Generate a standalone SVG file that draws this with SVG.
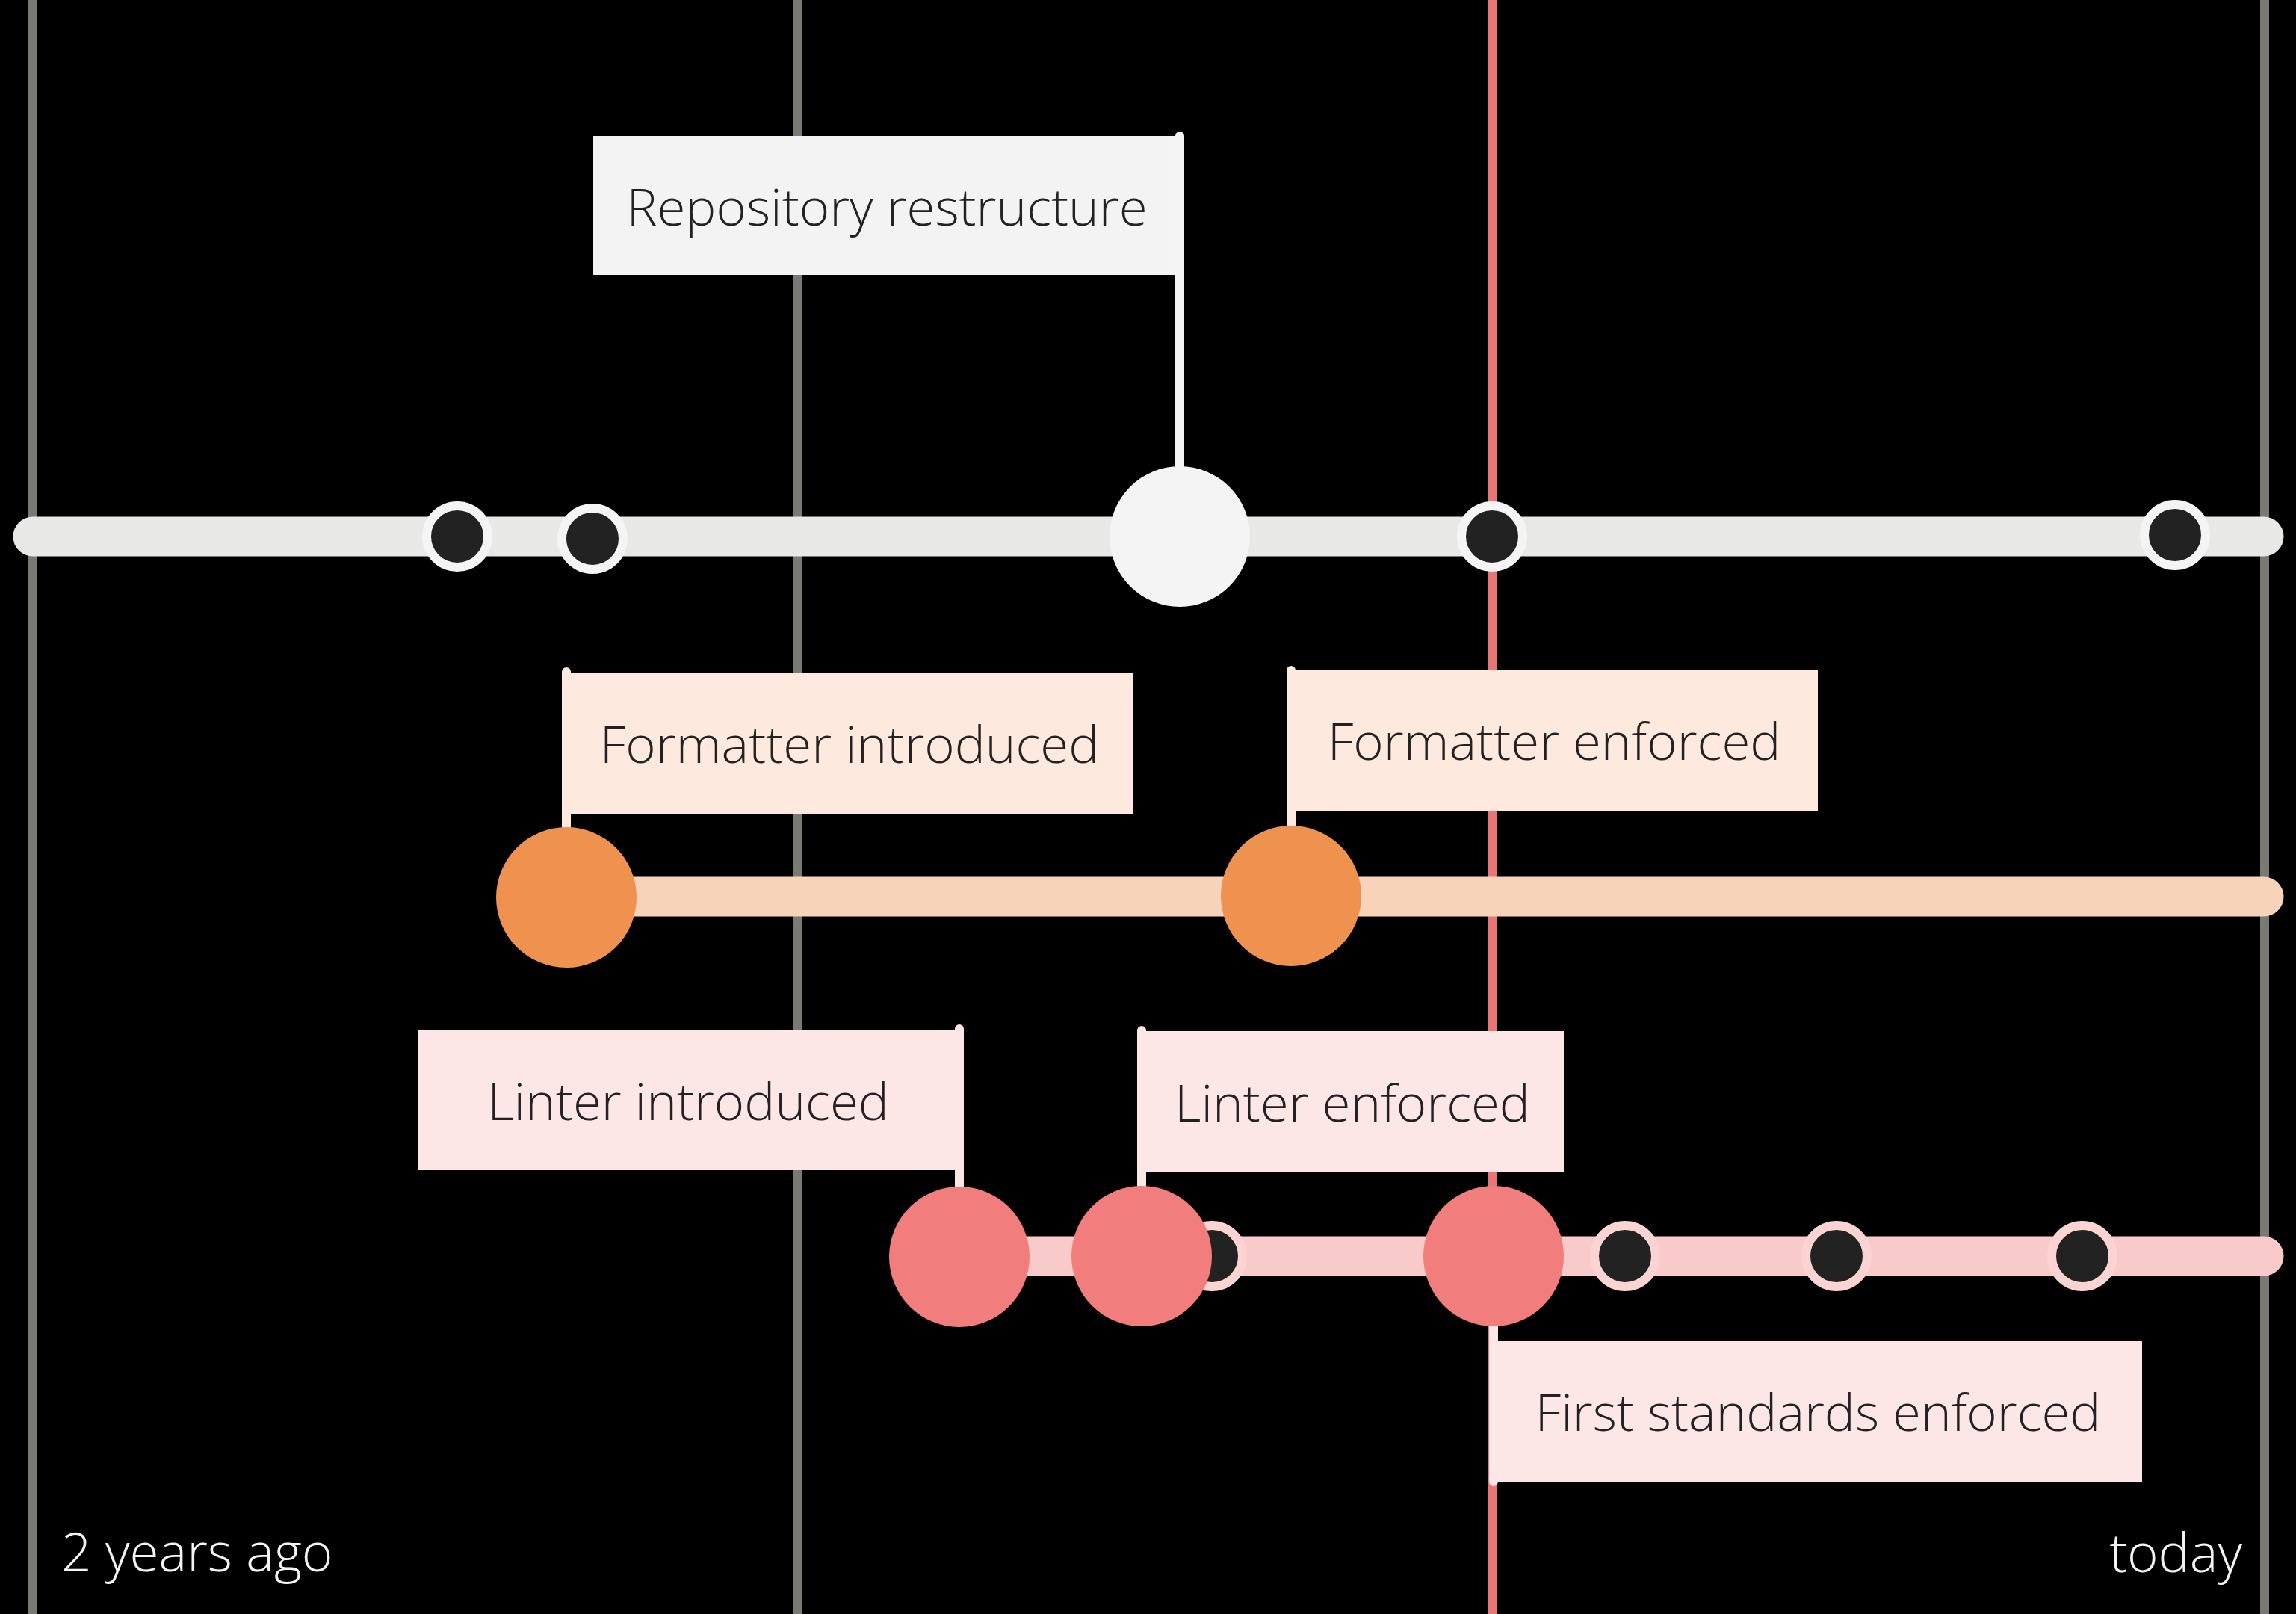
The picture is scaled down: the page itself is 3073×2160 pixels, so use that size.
<svg xmlns="http://www.w3.org/2000/svg" width="3073" height="2160" viewBox="0 0 3073 2160">
<style>
.grid{stroke:#7a7a72;stroke-width:12}
.now{stroke:#e87676;stroke-width:12}
.track{fill:none;stroke-width:53;stroke-linecap:round}
.lbl{font-family:"Open Sans","Noto Sans",sans-serif;font-weight:300;font-size:69px;fill:#222222;text-anchor:middle}
.axis{font-family:"Open Sans","Noto Sans",sans-serif;font-weight:300;font-size:71px;fill:#f4f4f4}
.stem{stroke-width:12;stroke-linecap:round}
.dot{fill:#222222;stroke-width:12}
.main .dot{stroke:#f4f4f4}
.lint .dot{stroke:#fbd3d3}
</style>
<rect width="3073" height="2160" fill="#000000"/>
<g id="gridlines">
<line class="grid" x1="43" y1="0" x2="43" y2="2160"/>
<line class="grid" x1="1068" y1="0" x2="1068" y2="2160"/>
<line class="grid" x1="3031" y1="0" x2="3031" y2="2160"/>
<line class="now" x1="1997" y1="0" x2="1997" y2="2160"/>
</g>
<g id="connectors">
<line class="track" x1="44" y1="718" x2="3030" y2="718" stroke="#e8e8e6"/>
<line class="track" x1="758" y1="1200" x2="3030" y2="1200" stroke="#f7d4b9"/>
<line class="track" x1="1284" y1="1681" x2="3030" y2="1681" stroke="#f9caca"/>
</g>
<g class="main">
<g id="commit-m1"><circle class="dot" cx="612" cy="718" r="41"/></g>
<g id="commit-m2"><circle class="dot" cx="793" cy="721" r="41"/></g>
<g id="commit-m3"><circle class="dot" cx="1997" cy="718" r="41"/></g>
<g id="commit-m4"><circle class="dot" cx="2911" cy="716" r="41"/></g>
</g>
<g class="lint">
<g id="commit-l1"><circle class="dot" cx="1622" cy="1681" r="41"/></g>
<g id="commit-l2"><circle class="dot" cx="2175" cy="1681" r="41"/></g>
<g id="commit-l3"><circle class="dot" cx="2458" cy="1681" r="41"/></g>
<g id="commit-l4"><circle class="dot" cx="2787" cy="1681" r="41"/></g>
</g>
<g id="repository-restructure">
<rect x="794" y="182" width="785" height="186" fill="#f3f3f3"/>
<line class="stem" x1="1579" y1="182" x2="1579" y2="640" stroke="#f4f4f4"/>
<circle cx="1579" cy="718" r="94" fill="#f4f4f4"/>
<text class="lbl" x="1187" y="302">Repository restructure</text>
</g>
<g id="formatter-introduced">
<rect x="758" y="901" width="758" height="188" fill="#fde9dd"/>
<line class="stem" x1="758" y1="899" x2="758" y2="1120" stroke="#fde9dd"/>
<circle cx="758" cy="1201" r="94" fill="#ef9250"/>
<text class="lbl" x="1137" y="1021">Formatter introduced</text>
</g>
<g id="formatter-enforced">
<rect x="1728" y="897" width="705" height="188" fill="#fde9dd"/>
<line class="stem" x1="1728" y1="897" x2="1728" y2="1120" stroke="#fde9dd"/>
<circle cx="1728" cy="1199" r="94" fill="#ef9250"/>
<text class="lbl" x="2080" y="1017">Formatter enforced</text>
</g>
<g id="linter-introduced">
<rect x="559" y="1378" width="725" height="188" fill="#fce6e6"/>
<line class="stem" x1="1284" y1="1377" x2="1284" y2="1600" stroke="#fce6e6"/>
<circle cx="1284" cy="1682" r="94" fill="#f17e7c"/>
<text class="lbl" x="921" y="1499">Linter introduced</text>
</g>
<g id="linter-enforced">
<rect x="1528" y="1380" width="565" height="188" fill="#fce6e6"/>
<line class="stem" x1="1528" y1="1379" x2="1528" y2="1600" stroke="#fce6e6"/>
<circle cx="1528" cy="1681" r="94" fill="#f17e7c"/>
<text class="lbl" x="1810" y="1501">Linter enforced</text>
</g>
<g id="first-standards-enforced">
<rect x="1999" y="1795" width="868" height="188" fill="#fce6e6"/>
<line class="stem" x1="1999" y1="1760" x2="1999" y2="1983" stroke="#fce6e6"/>
<circle cx="1999" cy="1681" r="94" fill="#f17e7c"/>
<text class="lbl" x="2433" y="1915">First standards enforced</text>
</g>
<g id="axis-labels">
<text class="axis" x="82" y="2103">2 years ago</text>
<text class="axis" x="3001" y="2104" text-anchor="end">today</text>
</g>
</svg>
